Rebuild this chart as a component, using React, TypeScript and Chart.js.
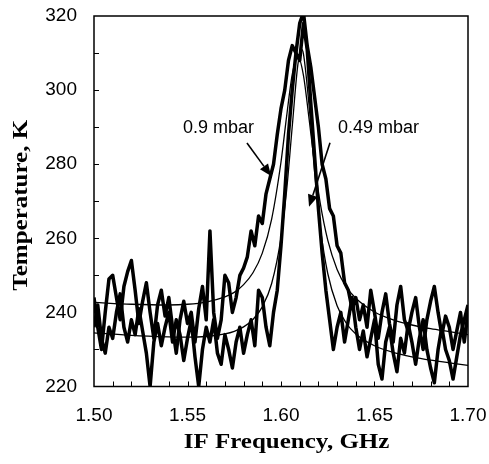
import React, { useEffect, useRef } from "react";
import { Chart, registerables } from "chart.js";
Chart.register(...registerables);

// Measured frequencies (GHz)
const FREQS = [
  1.500, 1.502, 1.504, 1.506, 1.508, 1.510, 1.512, 1.514, 1.516, 1.518,
  1.520, 1.522, 1.524, 1.526, 1.528, 1.530, 1.532, 1.534, 1.536, 1.538,
  1.540, 1.542, 1.544, 1.546, 1.548, 1.550, 1.552, 1.554, 1.556, 1.558,
  1.560, 1.562, 1.564, 1.566, 1.568, 1.570, 1.572, 1.574, 1.576, 1.578,
  1.580, 1.582, 1.584, 1.586, 1.588, 1.590, 1.592, 1.594, 1.596, 1.598,
  1.600, 1.602, 1.604, 1.606, 1.608, 1.610, 1.612, 1.614, 1.616, 1.618,
  1.620, 1.622, 1.624, 1.626, 1.628, 1.630, 1.632, 1.634, 1.636, 1.638,
  1.640, 1.642, 1.644, 1.646, 1.648, 1.650, 1.652, 1.654, 1.656, 1.658,
  1.660, 1.662, 1.664, 1.666, 1.668, 1.670, 1.672, 1.674, 1.676, 1.678,
  1.680, 1.682, 1.684, 1.686, 1.688, 1.690, 1.692, 1.694, 1.696, 1.698,
  1.700,
];

// 0.9 mbar measured temperature (K)
const T_09 = [
  244, 236, 230, 240, 249, 250, 244, 238, 247, 251,
  254, 246, 237, 243, 248, 240, 233, 242, 246, 239,
  244, 236, 229, 238, 243, 237, 240, 232, 241, 247,
  238, 262, 240, 233, 238, 250, 248, 240, 244, 250,
  252, 255, 262, 258, 266, 264, 272, 276, 280, 288,
  295, 300, 308, 312, 310, 318, 321, 312, 306, 298,
  290, 280, 276, 268, 266, 258, 256, 248, 246, 241,
  244, 238, 242, 236, 246, 240, 233, 240, 245, 237,
  232, 242, 247, 238, 235, 240, 244, 236, 230, 238,
  243, 247, 240, 234, 239, 236, 230, 235, 240, 232,
  240,
];

// 0.49 mbar measured temperature (K)
const T_049 = [
  236, 242, 233, 229, 236, 233, 240, 245, 236, 232,
  238, 234, 241, 235, 229, 220, 232, 237, 231, 236,
  240, 232, 238, 234, 227, 233, 238, 228, 220, 230,
  236, 232, 238, 229, 226, 234, 230, 225, 232, 236,
  229, 234, 238, 231, 246, 244, 236, 231, 240, 246,
  258, 272, 288, 300, 310, 308, 318, 311, 296, 282,
  268, 256, 246, 238, 230, 236, 240, 232, 238, 244,
  236, 230, 235, 228, 233, 238, 226, 222, 232, 236,
  229, 224, 233, 229, 237, 232, 226, 233, 238, 230,
  225, 221, 230, 236, 230, 227, 222, 228, 234, 238,
  242,
];

// Fitted curves
const FIT_FREQS_09 = [1.50, 1.52, 1.54, 1.55, 1.56, 1.57, 1.575, 1.58, 1.585, 1.59, 1.595, 1.60, 1.603, 1.606, 1.609, 1.612, 1.615, 1.618, 1.621, 1.625, 1.63, 1.635, 1.64, 1.65, 1.66, 1.67, 1.68, 1.69, 1.70];
const FIT_09 = [242.7, 242.2, 242.0, 242.2, 242.8, 244.2, 245.4, 247.5, 250.7, 256.0, 265.2, 280.6, 292.9, 304.2, 309.1, 304.0, 292.3, 279.8, 269.4, 259.5, 251.6, 246.8, 243.8, 240.1, 238.0, 236.6, 235.6, 234.8, 234.0];
const FIT_FREQS_049 = [1.50, 1.52, 1.54, 1.55, 1.56, 1.57, 1.575, 1.58, 1.585, 1.59, 1.595, 1.60, 1.603, 1.606, 1.609, 1.611, 1.612, 1.615, 1.618, 1.621, 1.625, 1.63, 1.635, 1.64, 1.65, 1.66, 1.67, 1.68, 1.69, 1.70];
const FIT_049 = [234.5, 233.8, 233.4, 233.3, 233.5, 234.2, 234.9, 236.1, 238.1, 241.5, 247.8, 260.2, 272.9, 290.1, 306.8, 311.0, 309.8, 295.9, 277.7, 263.0, 250.5, 241.8, 237.0, 234.2, 231.0, 229.2, 228.0, 227.1, 226.4, 225.7];

// Axis ticks
const X_MIN = 1.5, X_MAX = 1.7, X_STEP = 0.05;
const Y_MIN = 220, Y_MAX = 320, Y_STEP = 20;
const X_TICK_MARKS = [1.51, 1.52, 1.53, 1.54, 1.55, 1.56, 1.57, 1.58, 1.59, 1.60, 1.61, 1.62, 1.63, 1.64, 1.65, 1.66, 1.67, 1.68, 1.69];
const Y_TICK_MARKS = [230, 240, 250, 260, 270, 280, 290, 300, 310];

const X_TITLE = "IF Frequency, GHz";
const Y_TITLE = "Temperature, K";

// Annotations
const ANNOT_LABELS = ["0.9 mbar", "0.49 mbar"];
const ANNOT_TEXT_F = [1.5666, 1.6521];
const ANNOT_TEXT_T = [288.4, 288.4];
const ARROW_FROM_F = [1.5818, 1.6262];
const ARROW_FROM_T = [285.7, 285.8];
const ARROW_TO_F = [1.5947, 1.6150];
const ARROW_TO_T = [276.8, 268.5];

const toPts = (xs: number[], ys: number[]) => xs.map((x, i) => ({ x, y: ys[i] }));

const decorPlugin = {
  id: "decor",
  afterDatasetsDraw(chart: any) {
    const { ctx, chartArea: a, scales } = chart;
    const x = scales.x, y = scales.y;
    ctx.save();
    ctx.strokeStyle = "#000";
    ctx.lineWidth = 1.5;
    ctx.strokeRect(a.left, a.top, a.right - a.left, a.bottom - a.top);
    ctx.lineWidth = 1;
    ctx.beginPath();
    for (const v of X_TICK_MARKS) {
      const px = Math.round(x.getPixelForValue(v)) + 0.5;
      ctx.moveTo(px, a.bottom);
      ctx.lineTo(px, a.bottom - 5);
    }
    for (const v of Y_TICK_MARKS) {
      const py = Math.round(y.getPixelForValue(v)) + 0.5;
      ctx.moveTo(a.left, py);
      ctx.lineTo(a.left + 5, py);
    }
    ctx.stroke();

    ctx.fillStyle = "#000";
    ctx.font = "18px 'Liberation Sans', Arial, sans-serif";
    ctx.textAlign = "center";
    ctx.textBaseline = "alphabetic";
    for (let i = 0; i < ANNOT_LABELS.length; i++) {
      ctx.fillText(ANNOT_LABELS[i], x.getPixelForValue(ANNOT_TEXT_F[i]), y.getPixelForValue(ANNOT_TEXT_T[i]));
      const x0 = x.getPixelForValue(ARROW_FROM_F[i]);
      const y0 = y.getPixelForValue(ARROW_FROM_T[i]);
      const x1 = x.getPixelForValue(ARROW_TO_F[i]);
      const y1 = y.getPixelForValue(ARROW_TO_T[i]);
      const ang = Math.atan2(y1 - y0, x1 - x0);
      const hl = 12, hw = 5;
      const bx = x1 - hl * Math.cos(ang), by = y1 - hl * Math.sin(ang);
      ctx.lineWidth = 1.6;
      ctx.beginPath();
      ctx.moveTo(x0, y0);
      ctx.lineTo(bx, by);
      ctx.stroke();
      ctx.beginPath();
      ctx.moveTo(x1, y1);
      ctx.lineTo(bx + hw * Math.sin(ang), by - hw * Math.cos(ang));
      ctx.lineTo(bx - hw * Math.sin(ang), by + hw * Math.cos(ang));
      ctx.closePath();
      ctx.fill();
    }
    ctx.restore();
  },
  afterDraw(chart: any) {
    const { ctx, chartArea: a } = chart;
    ctx.save();
    ctx.fillStyle = "#000";
    ctx.font = "bold 21px 'Liberation Serif', 'Times New Roman', serif";
    ctx.textAlign = "center";
    ctx.textBaseline = "alphabetic";
    ctx.save();
    ctx.translate((a.left + a.right) / 2 + 5.5, 448);
    ctx.scale(1.19, 1);
    ctx.fillText(X_TITLE, 0, 0);
    ctx.restore();
    ctx.save();
    ctx.translate(26.7, (a.top + a.bottom) / 2 + 4);
    ctx.rotate(-Math.PI / 2);
    ctx.scale(1.25, 1);
    ctx.font = "bold 20px 'Liberation Serif', 'Times New Roman', serif";
    ctx.fillText(Y_TITLE, 0, 0);
    ctx.restore();
    ctx.restore();
  },
};

export default function App() {
  const ref = useRef<HTMLCanvasElement | null>(null);
  useEffect(() => {
    if (!ref.current) return;
    const tickFont = { family: "'Liberation Sans', Arial, sans-serif", size: 19 };
    const chart = new Chart(ref.current, {
      type: "line",
      data: {
        datasets: [
          { data: toPts(FREQS, T_09), borderColor: "#000", borderWidth: 3.5, pointRadius: 0, tension: 0, borderJoinStyle: "round" },
          { data: toPts(FREQS, T_049), borderColor: "#000", borderWidth: 3.5, pointRadius: 0, tension: 0, borderJoinStyle: "round" },
          { data: toPts(FIT_FREQS_09, FIT_09), borderColor: "#000", borderWidth: 1.3, pointRadius: 0, cubicInterpolationMode: "monotone" },
          { data: toPts(FIT_FREQS_049, FIT_049), borderColor: "#000", borderWidth: 1.3, pointRadius: 0, cubicInterpolationMode: "monotone" },
        ] as any,
      },
      options: {
        responsive: false,
        animation: false,
        events: [],
        layout: { padding: { top: 16, right: 21, left: 0, bottom: 0 } },
        plugins: { legend: { display: false }, tooltip: { enabled: false } },
        scales: {
          x: {
            type: "linear",
            min: X_MIN,
            max: X_MAX,
            ticks: { stepSize: X_STEP, callback: (v: any) => Number(v).toFixed(2), font: tickFont, color: "#000", padding: 18, maxRotation: 0, autoSkip: false },
            grid: { display: false, drawTicks: false },
            border: { display: false },
            afterFit: (s: any) => { s.height = 77.5; s.paddingLeft = 0; s.paddingRight = 0; },
          },
          y: {
            type: "linear",
            min: Y_MIN,
            max: Y_MAX,
            ticks: { stepSize: Y_STEP, font: tickFont, color: "#000", padding: 17 },
            grid: { display: false, drawTicks: false },
            border: { display: false },
            afterFit: (s: any) => { s.width = 94; s.paddingTop = 0; s.paddingBottom = 0; },
          },
        },
      } as any,
      plugins: [decorPlugin],
    });
    return () => chart.destroy();
  }, []);
  return (
    <div style={{ position: "absolute", left: 0, top: 0, width: 489, height: 464, background: "#fff" }}>
      <canvas ref={ref} width={489} height={464} style={{ display: "block" }} />
    </div>
  );
}
